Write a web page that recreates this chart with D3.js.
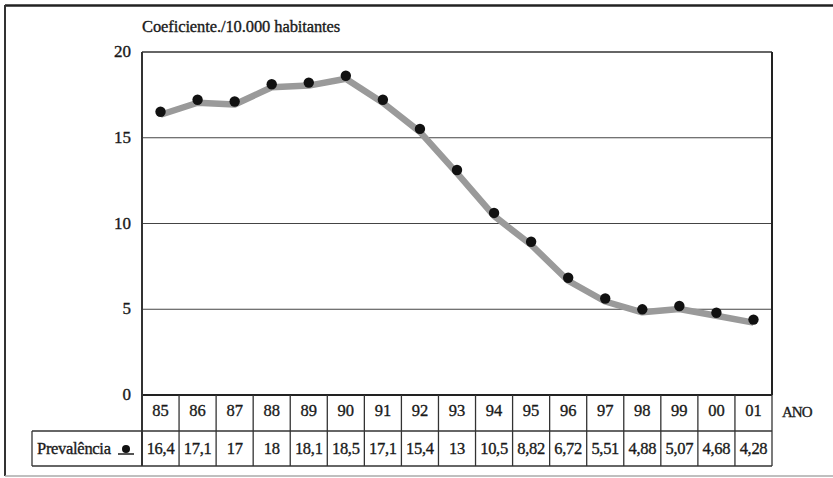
<!DOCTYPE html>
<html>
<head>
<meta charset="utf-8">
<script src="https://cdn.jsdelivr.net/npm/d3@7"></script>
<style>
html,body{margin:0;padding:0;background:#fff;}
svg{display:block;}
</style>
</head>
<body>
<svg id="chart" width="833" height="478"></svg>
<script>
const years = ["85","86","87","88","89","90","91","92","93","94","95","96","97","98","99","00","01"];
const prevalencia = [16.4,17.1,17,18,18.1,18.5,17.1,15.4,13,10.5,8.82,6.72,5.51,4.88,5.07,4.68,4.28];
const valueLabels = ["16,4","17,1","17","18","18,1","18,5","17,1","15,4","13","10,5","8,82","6,72","5,51","4,88","5,07","4,68","4,28"];
const yTicks = [0,5,10,15,20];
const title = "Coeficiente./10.000 habitantes";
const seriesName = "Prevalência";
const axisName = "ANO";

const FONT = "'Liberation Serif', 'Times New Roman', Times, serif";
const svg = d3.select("#chart").attr("font-family", FONT);
const L = 142, R = 772, T = 52, B = 395;
const row1 = 431, row2 = 466, legendLeft = 32;

const x = d3.scaleBand().domain(years).range([L, R]);
const y = d3.scaleLinear().domain([0, 20]).range([B, T]);

function styleText(sel){
  return sel.attr("font-family", FONT).attr("fill", "#1a1a1a")
    .attr("stroke", "#1a1a1a").attr("stroke-width", 0.35);
}

// outer frame
svg.append("line").attr("x1",5).attr("x2",833).attr("y1",5.5).attr("y2",5.5).attr("stroke","#222").attr("stroke-width",2.5);
svg.append("line").attr("x1",5).attr("x2",5).attr("y1",5).attr("y2",476).attr("stroke","#333").attr("stroke-width",2);
svg.append("line").attr("x1",5).attr("x2",833).attr("y1",476).attr("y2",476).attr("stroke","#aaa").attr("stroke-width",1.5);

// title
styleText(svg.append("text")).attr("x", L).attr("y", 32).attr("font-size", 16.5).attr("letter-spacing", -0.1).text(title);

// grid lines
svg.append("g").selectAll("line").data(yTicks.filter(d => d > 0 && d < 20)).join("line")
  .attr("x1", L).attr("x2", R).attr("y1", d => y(d)).attr("y2", d => y(d))
  .attr("stroke", "#444").attr("stroke-width", 1.2);

// y axis labels
styleText(svg.append("g")).selectAll("text").data(yTicks).join("text")
  .attr("x", 131).attr("y", d => y(d)).attr("dy", "0.3em")
  .attr("text-anchor", "end").attr("font-size", 17).text(d => d);

// plot frame
svg.append("line").attr("x1",L).attr("x2",R).attr("y1",T).attr("y2",T).attr("stroke","#333").attr("stroke-width",1.6);
svg.append("line").attr("x1",R).attr("x2",R).attr("y1",T).attr("y2",B).attr("stroke","#222").attr("stroke-width",2);
svg.append("line").attr("x1",L).attr("x2",R).attr("y1",B).attr("y2",B).attr("stroke","#222").attr("stroke-width",2);
svg.append("line").attr("x1",L).attr("x2",L).attr("y1",T).attr("y2",row2).attr("stroke","#333").attr("stroke-width",2);

// line
const line = d3.line().x((d, i) => x(years[i]) + x.bandwidth() / 2).y(d => y(d));
svg.append("path").datum(prevalencia).attr("d", line)
  .attr("fill", "none").attr("stroke", "#9a9a9a").attr("stroke-width", 6.5)
  .attr("stroke-linejoin", "round").attr("transform", "translate(0,1)");

// dots
svg.append("g").attr("transform", "translate(0,-2)").selectAll("circle").data(prevalencia).join("circle")
  .attr("cx", (d, i) => x(years[i]) + x.bandwidth() / 2).attr("cy", d => y(d))
  .attr("r", 5.2).attr("fill", "#111");

// table
const tbl = svg.append("g").attr("stroke", "#333").attr("stroke-width", 1.3);
tbl.append("line").attr("x1", legendLeft).attr("x2", R).attr("y1", row1).attr("y2", row1);
tbl.append("line").attr("x1", legendLeft).attr("x2", R).attr("y1", row2).attr("y2", row2);
tbl.append("line").attr("x1", legendLeft).attr("x2", legendLeft).attr("y1", row1).attr("y2", row2);
tbl.selectAll("line.col").data(years.slice(1)).join("line").attr("class","col")
  .attr("x1", d => x(d)).attr("x2", d => x(d)).attr("y1", B).attr("y2", row2);
tbl.append("line").attr("x1", R).attr("x2", R).attr("y1", B).attr("y2", row2);

styleText(svg.append("g")).selectAll("text").data(years).join("text")
  .attr("x", d => x(d) + x.bandwidth() / 2).attr("y", 416)
  .attr("text-anchor", "middle").attr("font-size", 16.5).text(d => d);

styleText(svg.append("g")).selectAll("text").data(valueLabels).join("text")
  .attr("x", (d, i) => x(years[i]) + x.bandwidth() / 2).attr("y", 454)
  .attr("text-anchor", "middle").attr("font-size", 16.5).attr("letter-spacing", -0.3).text(d => d);

styleText(svg.append("text")).attr("x", 782).attr("y", 417).attr("font-size", 15).attr("letter-spacing", -1).text(axisName);

// legend label + icon
styleText(svg.append("text")).attr("x", 37).attr("y", 454).attr("font-size", 16.5).attr("letter-spacing", -0.3).text(seriesName);
svg.append("line").attr("x1", 118).attr("x2", 134).attr("y1", 454).attr("y2", 454).attr("stroke", "#555").attr("stroke-width", 2);
svg.append("circle").attr("cx", 126).attr("cy", 449).attr("r", 4).attr("fill", "#111");
</script>
</body>
</html>
